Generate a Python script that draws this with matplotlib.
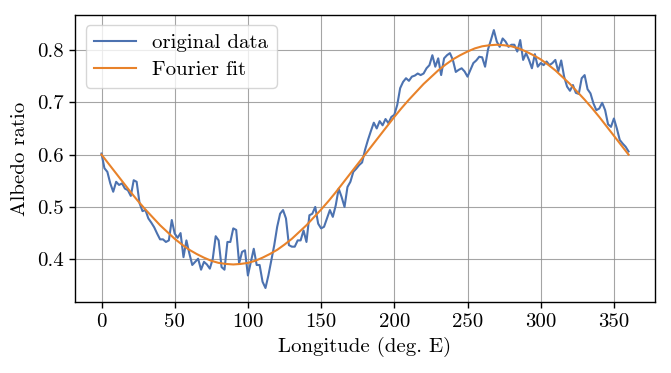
import numpy as np
import matplotlib
matplotlib.use("Agg")
import matplotlib.pyplot as plt

# ---- data ----
lon_data = np.arange(0, 361, 2)
albedo = [
    0.602, 0.574, 0.567, 0.545, 0.529, 0.548, 0.542, 0.545, 0.535, 0.532,  # 0-18
    0.521, 0.551, 0.548, 0.507, 0.492, 0.494, 0.478, 0.470, 0.461, 0.449,  # 20-38
    0.438, 0.438, 0.433, 0.436, 0.475, 0.449, 0.441, 0.450, 0.404, 0.436,  # 40-58
    0.411, 0.389, 0.395, 0.401, 0.380, 0.395, 0.390, 0.382, 0.401, 0.444,  # 60-78
    0.436, 0.385, 0.380, 0.433, 0.433, 0.459, 0.456, 0.392, 0.414, 0.417,  # 80-98
    0.369, 0.395, 0.420, 0.389, 0.389, 0.357, 0.345, 0.369, 0.398, 0.427,  # 100-118
    0.462, 0.487, 0.494, 0.478, 0.427, 0.424, 0.424, 0.436, 0.436, 0.455,  # 120-138
    0.433, 0.484, 0.487, 0.500, 0.468, 0.459, 0.462, 0.478, 0.494, 0.481,  # 140-158
    0.503, 0.535, 0.519, 0.500, 0.538, 0.548, 0.567, 0.573, 0.580, 0.585,  # 160-178
    0.609, 0.628, 0.645, 0.661, 0.650, 0.664, 0.656, 0.668, 0.660, 0.672,  # 180-198
    0.676, 0.695, 0.727, 0.739, 0.746, 0.741, 0.749, 0.751, 0.755, 0.752,  # 200-218
    0.755, 0.765, 0.771, 0.790, 0.768, 0.784, 0.752, 0.784, 0.790, 0.794,  # 220-238
    0.781, 0.758, 0.762, 0.765, 0.759, 0.749, 0.762, 0.775, 0.780, 0.787,  # 240-258
    0.786, 0.768, 0.801, 0.819, 0.838, 0.816, 0.806, 0.822, 0.816, 0.806,  # 260-278
    0.810, 0.810, 0.797, 0.819, 0.781, 0.794, 0.781, 0.765, 0.792, 0.768,  # 280-298
    0.775, 0.771, 0.778, 0.771, 0.775, 0.781, 0.759, 0.780, 0.749, 0.730,  # 300-318
    0.722, 0.733, 0.718, 0.716, 0.746, 0.752, 0.725, 0.717, 0.698, 0.685,  # 320-338
    0.688, 0.699, 0.685, 0.658, 0.653, 0.669, 0.650, 0.628, 0.621, 0.615,  # 340-358
    0.606,                                                                  # 360
]

lon_fit = np.arange(0, 361, 5)
fit = [
    0.600, 0.582, 0.564, 0.546, 0.528, 0.511, 0.495, 0.480, 0.465, 0.452,
    0.439, 0.428, 0.418, 0.410, 0.403, 0.397, 0.393, 0.391, 0.390,
    0.391, 0.393, 0.397, 0.403, 0.410, 0.418, 0.428, 0.439, 0.452,
    0.465, 0.480, 0.495, 0.511, 0.528, 0.546, 0.564, 0.582, 0.600,
    0.618, 0.636, 0.654, 0.672, 0.689, 0.705, 0.720, 0.735, 0.748,
    0.761, 0.772, 0.782, 0.790, 0.797, 0.803, 0.807, 0.809, 0.810,
    0.809, 0.807, 0.803, 0.797, 0.790, 0.782, 0.772, 0.761, 0.748,
    0.735, 0.720, 0.705, 0.689, 0.672, 0.654, 0.636, 0.618, 0.600,
]

xticks = [0, 50, 100, 150, 200, 250, 300, 350]
yticks = [0.4, 0.5, 0.6, 0.7, 0.8]

plt.rcParams['font.family'] = 'serif'
plt.rcParams['font.serif'] = ['cmr10', 'DejaVu Serif']
plt.rcParams['mathtext.fontset'] = 'cm'
plt.rcParams['axes.formatter.use_mathtext'] = True
plt.rcParams['axes.unicode_minus'] = False

fig = plt.figure(figsize=(6.71, 3.73), dpi=100)
ax = fig.add_axes([0.112, 0.190, 0.864, 0.770])

ax.plot(lon_data, albedo, color='#4C72B0', lw=1.5, label='original data', zorder=3)
ax.plot(lon_fit, fit, color='#E8822A', lw=1.5, label='Fourier fit', zorder=4)

ax.set_xlim(-18, 378)
ax.set_ylim(0.318, 0.867)
ax.set_xticks(xticks)
ax.set_xticklabels([str(t) for t in xticks])
ax.set_yticks(yticks)
ax.set_yticklabels([f'{t:.1f}' for t in yticks])
ax.tick_params(labelsize=15, direction='out', length=4, width=1, pad=4)
ax.grid(True, color='#8f8f8f', lw=0.8, alpha=0.8, zorder=0)
ax.set_axisbelow(True)
for s in ax.spines.values():
    s.set_color('black')
    s.set_linewidth(1.0)

ax.set_xlabel('Longitude (deg. E)', fontsize=15, labelpad=4)
ax.set_ylabel('Albedo ratio', fontsize=15, labelpad=6)

leg = ax.legend(loc='upper left', fontsize=15, frameon=True, fancybox=True,
                framealpha=0.8, edgecolor='#cccccc', handlelength=2.0,
                borderaxespad=0.5, borderpad=0.4, labelspacing=0.4)

fig.savefig('out.png', dpi=100)
